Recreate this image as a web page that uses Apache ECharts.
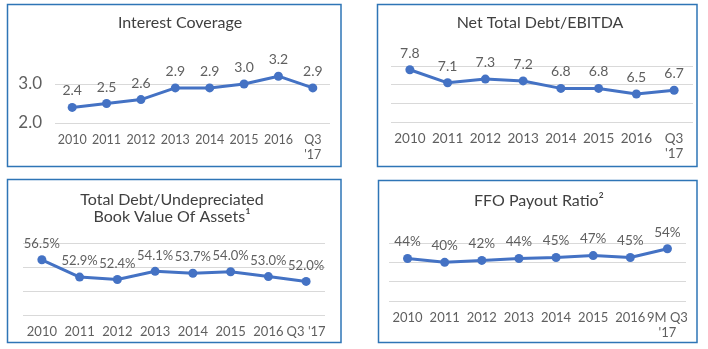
<!DOCTYPE html>
<html>
<head>
<meta charset="utf-8">
<script src="https://cdn.jsdelivr.net/npm/echarts@6/dist/echarts.min.js"></script>
<style>
  html, body { margin: 0; padding: 0; background: #ffffff; }
  #chart { width: 708px; height: 349px; }
</style>
</head>
<body>
<div id="chart"></div>
<script>
// Credit metrics, 2010 – Q3 2017
const coverageCategories = ['2010', '2011', '2012', '2013', '2014', '2015', '2016', "Q3\n'17"];
const coverageValues = [2.4, 2.5, 2.6, 2.9, 2.9, 3.0, 3.2, 2.9];

const leverageCategories = ['2010', '2011', '2012', '2013', '2014', '2015', '2016', "Q3\n'17"];
const leverageValues = [7.8, 7.1, 7.3, 7.2, 6.8, 6.8, 6.5, 6.7];

const bookValueCategories = ['2010', '2011', '2012', '2013', '2014', '2015', '2016', "Q3 '17"];
const bookValueValues = [56.5, 52.9, 52.4, 54.1, 53.7, 54.0, 53.0, 52.0];

const payoutCategories = ['2010', '2011', '2012', '2013', '2014', '2015', '2016', "9M Q3\n'17"];
const payoutValues = [44, 40, 42, 44, 45, 47, 45, 54];

const panelTitles = [
  'Interest Coverage',
  'Net Total Debt/EBITDA',
  'Total Debt/Undepreciated\nBook Value Of Assets\u00b9',
  'FFO Payout Ratio\u00b2'
];

const FONT = 'Lato, "Noto Sans", sans-serif';
const LINE = '#4472c4';
const GRID = '#d9d9d9';
const TEXT = '#5f5f5f';
const FRAME = '#2e75b6';

const chart = echarts.init(document.getElementById('chart'), null, { renderer: 'canvas' });

function xAxisFor(gridIndex, data, fontSize) {
  return {
    type: 'category', gridIndex, data,
    boundaryGap: true,
    axisLine: { show: false }, axisTick: { show: false },
    axisLabel: { color: TEXT, fontFamily: FONT, fontSize, margin: 9, lineHeight: 15, interval: 0 }
  };
}

function yAxisFor(gridIndex, min, max, interval, colors, showLabels) {
  return {
    type: 'value', gridIndex, min, max, interval,
    axisLine: { show: false }, axisTick: { show: false },
    splitLine: { show: true, lineStyle: { color: colors, width: 1 } },
    axisLabel: showLabels ? {
      show: true, color: TEXT, fontFamily: FONT, fontSize: 17, margin: 13,
      formatter: v => (v >= 4 ? '' : v.toFixed(1))
    } : { show: false }
  };
}

function seriesFor(idx, data, fmt, fontSize) {
  return {
    type: 'line', xAxisIndex: idx, yAxisIndex: idx, data,
    symbol: 'circle', symbolSize: 9,
    lineStyle: { color: LINE, width: 3 },
    itemStyle: { color: LINE },
    label: {
      show: true, position: 'top', distance: 5,
      color: TEXT, fontFamily: FONT, fontSize,
      formatter: p => fmt(p.value)
    },
    animation: false
  };
}

const option = {
  backgroundColor: '#ffffff',
  animation: false,
  grid: [
    { left: 55, top: 45, width: 275, height: 78 },
    { left: 391, top: 66, width: 302, height: 56 },
    { left: 23, top: 243, width: 302, height: 72 },
    { left: 389, top: 243, width: 297, height: 58 }
  ],
  xAxis: [
    xAxisFor(0, coverageCategories, 12.5),
    xAxisFor(1, leverageCategories, 13.5),
    xAxisFor(2, bookValueCategories, 13),
    xAxisFor(3, payoutCategories, 13)
  ],
  yAxis: [
    yAxisFor(0, 2, 4, 1, [GRID, GRID, 'rgba(0,0,0,0)'], true),
    yAxisFor(1, 5, 8, 1, [GRID], false),
    yAxisFor(2, 45, 60, 5, [GRID], false),
    yAxisFor(3, 0, 60, 20, [GRID], false)
  ],
  series: [
    seriesFor(0, coverageValues, v => v.toFixed(1), 14),
    seriesFor(1, leverageValues, v => v.toFixed(1), 14),
    seriesFor(2, bookValueValues, v => v.toFixed(1) + '%', 13),
    seriesFor(3, payoutValues, v => v + '%', 13.5)
  ],
  graphic: [
    // panel frames
    { type: 'rect', shape: { x: 7.5, y: 4.5, width: 333.5, height: 162 }, style: { fill: 'none', stroke: FRAME, lineWidth: 1.5 } },
    { type: 'rect', shape: { x: 377.5, y: 4.5, width: 319.5, height: 162 }, style: { fill: 'none', stroke: FRAME, lineWidth: 1.5 } },
    { type: 'rect', shape: { x: 7.5, y: 179.5, width: 333.5, height: 163 }, style: { fill: 'none', stroke: FRAME, lineWidth: 1.5 } },
    { type: 'rect', shape: { x: 378.5, y: 180.5, width: 318.5, height: 162 }, style: { fill: 'none', stroke: FRAME, lineWidth: 1.5 } },
    // panel titles
    { type: 'text', x: 180, y: 22.5, style: { text: panelTitles[0], fill: '#404040', font: '16px ' + FONT, textAlign: 'center', textVerticalAlign: 'middle' } },
    { type: 'text', x: 540, y: 22.5, style: { text: panelTitles[1], fill: '#404040', font: '16px ' + FONT, textAlign: 'center', textVerticalAlign: 'middle' } },
    { type: 'text', x: 172, y: 208.5, style: { text: panelTitles[2], fill: '#404040', font: '16px ' + FONT, lineHeight: 17, textAlign: 'center', textVerticalAlign: 'middle' } },
    { type: 'text', x: 539, y: 200.5, style: { text: panelTitles[3], fill: '#404040', font: '16px ' + FONT, textAlign: 'center', textVerticalAlign: 'middle' } }
  ]
};

chart.setOption(option);
</script>
</body>
</html>
